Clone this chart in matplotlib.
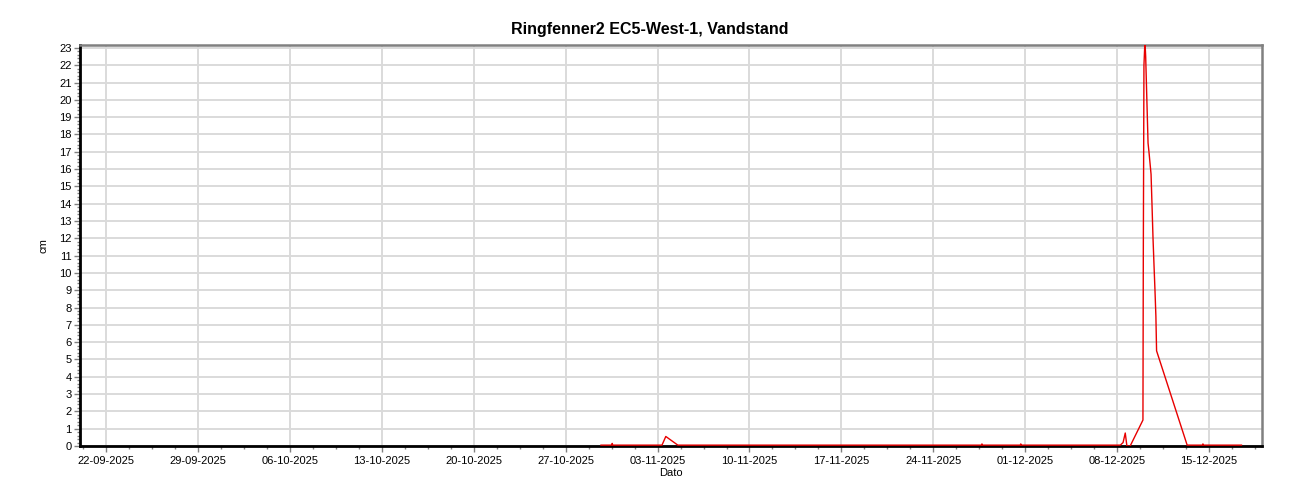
import numpy as np
import matplotlib
matplotlib.use("Agg")
import matplotlib.pyplot as plt
import matplotlib.dates as mdates
from matplotlib.ticker import MultipleLocator, FixedLocator
from datetime import datetime

plt.rcParams['font.family'] = ['Liberation Sans', 'DejaVu Sans']

title = "Ringfenner2 EC5-West-1, Vandstand"
x_label = "Dato"
y_label = "cm"

times = [
    "2025-10-29 16:30", "2025-10-30 12:00", "2025-10-30 13:00", "2025-10-30 14:00",
    "2025-11-01 00:00", "2025-11-03 08:00", "2025-11-03 15:00", "2025-11-04 13:00",
    "2025-11-15 00:00", "2025-11-27 16:00", "2025-11-27 17:00", "2025-11-27 18:00",
    "2025-11-30 15:00", "2025-11-30 16:00", "2025-11-30 17:00",
    "2025-12-08 06:00", "2025-12-08 11:00", "2025-12-08 15:00", "2025-12-08 18:00",
    "2025-12-09 00:00", "2025-12-09 23:20", "2025-12-10 00:00", "2025-12-10 01:10",
    "2025-12-10 03:00", "2025-12-10 04:20", "2025-12-10 06:30", "2025-12-10 08:40",
    "2025-12-10 10:20", "2025-12-10 14:10", "2025-12-10 15:50", "2025-12-10 17:45",
    "2025-12-10 19:30", "2025-12-10 21:20", "2025-12-10 23:00", "2025-12-11 00:15",
    "2025-12-13 08:10", "2025-12-14 12:00", "2025-12-14 13:00", "2025-12-14 14:00",
    "2025-12-17 11:30",
]
values = [
    0.05, 0.05, 0.15, 0.05,
    0.05, 0.05, 0.55, 0.05,
    0.05, 0.05, 0.12, 0.05,
    0.05, 0.12, 0.05,
    0.05, 0.2, 0.75, 0.0,
    0.0, 1.5, 11.0, 22.0,
    23.4, 22.5, 20.0, 17.5,
    17.0, 15.7, 14.0, 12.0,
    10.5, 9.0, 7.5, 5.5,
    0.05, 0.05, 0.12, 0.05,
    0.05,
]

t = [datetime.strptime(s, "%Y-%m-%d %H:%M") for s in times]

fig = plt.figure(figsize=(13, 5), dpi=100)
ax = fig.add_axes([80/1300, 54/500, 1182/1300, 401/500])

ax.plot(t, values, color='#e80000', lw=1.0, zorder=3, clip_on=True)

ax.set_xlim(mdates.date2num(datetime(2025, 9, 20, 0, 0)), mdates.date2num(datetime(2025, 12, 19, 1, 0)))
ax.set_ylim(0, 23.17)

ax.xaxis.set_major_locator(mdates.WeekdayLocator(byweekday=mdates.MO))
ax.xaxis.set_major_formatter(mdates.DateFormatter('%d-%m-%Y'))
start = mdates.date2num(datetime(2025, 9, 22))
ax.xaxis.set_minor_locator(FixedLocator(start + np.arange(-2, 60) * 1.75))
ax.yaxis.set_major_locator(MultipleLocator(1))
ax.yaxis.set_minor_locator(MultipleLocator(0.2))

ax.grid(True, which='major', color='#dadada', lw=1.4, zorder=0)
ax.set_axisbelow(True)

for s in ['left', 'bottom']:
    ax.spines[s].set_color('black')
    ax.spines[s].set_linewidth(2)
for s in ['top', 'right']:
    ax.spines[s].set_color('#808080')
    ax.spines[s].set_linewidth(1.8)

ax.tick_params(axis='both', which='major', labelsize=8, length=4, width=1, color='#808080', pad=3)
ax.tick_params(axis='y', which='major', pad=2)
ax.tick_params(axis='both', which='minor', length=2, width=1, color='#808080')

ax.set_xlabel(x_label, fontsize=8, labelpad=2)
ax.set_ylabel(y_label, fontsize=8)
ax.yaxis.set_label_coords(-0.027, 0.5)

fig.text(0.5, 1 - 29.5/500, title, ha='center', va='center', fontsize=11.5, fontweight='bold')

fig.savefig("out.png", dpi=100)
